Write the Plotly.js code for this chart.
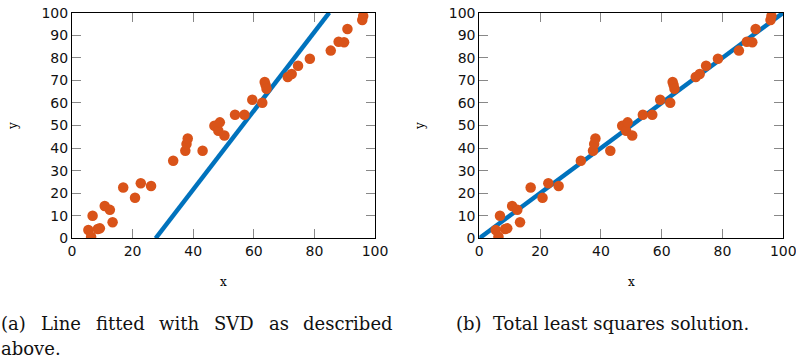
<!DOCTYPE html>
<html>
<head>
<meta charset="utf-8">
<script src="https://cdn.plot.ly/plotly-3.0.1.min.js"></script>
<style>html,body{margin:0;padding:0;background:#fff;}#chart{width:796px;height:359px;}</style>
</head>
<body>
<div id="chart"></div>
<script>
// Data points (same data in both panels)
const pointsX = [5.4, 6.3, 6.8, 8.5, 9.2, 10.8, 12.5, 13.4, 16.9, 20.8, 22.7, 26.1, 33.4, 37.4, 37.8, 38.2, 43.1, 47.0, 48.3, 48.8, 50.3, 53.8, 56.9, 59.5, 62.8, 63.6, 63.9, 64.2, 71.2, 72.5, 74.6, 78.5, 85.4, 88.0, 89.8, 90.9, 95.8, 96.1];
const pointsY = [3.7, 0.7, 10.0, 4.1, 4.4, 14.3, 12.6, 7.1, 22.5, 18.0, 24.4, 23.2, 34.4, 38.8, 41.8, 44.2, 38.8, 49.9, 47.7, 51.4, 45.6, 54.8, 54.8, 61.4, 60.1, 69.3, 68.0, 66.3, 71.5, 72.8, 76.5, 79.6, 83.2, 87.1, 86.9, 92.8, 96.8, 98.5];
// Fitted lines (endpoints of each fit)
const svdLineX = [27.6, 84.9];
const svdLineY = [0, 100];
const tlsLineX = [0, 100];
const tlsLineY = [0, 100];
const xTicks = [0, 20, 40, 60, 80, 100];
const yTicks = [0, 10, 20, 30, 40, 50, 60, 70, 80, 90, 100];
const captionA1 = ["(a)", "Line", "fitted", "with", "SVD", "as", "described"];
const captionA2 = "above.";
const captionB = "(b)&nbsp;&nbsp;Total least squares solution.";

const blue = "#0072BD", orange = "#D95319";
const lineStyle = {color: blue, width: 4.5};
const markerStyle = {color: orange, size: 10.5};

const traces = [
  {x: svdLineX, y: svdLineY, mode: "lines", line: lineStyle, xaxis: "x", yaxis: "y", hoverinfo: "skip"},
  {x: pointsX, y: pointsY, mode: "markers", marker: markerStyle, xaxis: "x", yaxis: "y"},
  {x: tlsLineX, y: tlsLineY, mode: "lines", line: lineStyle, xaxis: "x2", yaxis: "y2", hoverinfo: "skip"},
  {x: pointsX, y: pointsY, mode: "markers", marker: markerStyle, xaxis: "x2", yaxis: "y2"}
];

const tickFont = {family: "DejaVu Sans, sans-serif", size: 14, color: "#111"};
const serif = "DejaVu Serif, serif";
function xAx(domain, anchor) {
  return {domain: domain, anchor: anchor, range: [0, 100], tickvals: xTicks, ticktext: xTicks.map(String),
    ticks: "inside", ticklen: 9, tickcolor: "#888", tickwidth: 1, mirror: "ticks", showline: true,
    linecolor: "#000", linewidth: 1, showgrid: false, zeroline: false, tickfont: tickFont,
    ticklabeloverflow: "allow",
    title: {text: "x", font: {family: serif, size: 12, color: "#000"}, standoff: 19}};
}
function yAx(domain, anchor) {
  return {domain: domain, anchor: anchor, range: [0, 100], tickvals: yTicks, ticktext: yTicks.map(String),
    ticks: "inside", ticklen: 9, tickcolor: "#888", tickwidth: 1, mirror: "ticks", showline: true,
    linecolor: "#000", linewidth: 1, showgrid: false, zeroline: false, tickfont: tickFont,
    ticklabeloverflow: "allow",
    title: {text: "y", font: {family: serif, size: 12, color: "#000"}, standoff: 21}};
}
const yDom = [1 - 238.3 / 359, 1 - 12.7 / 359];
const capSize = 18;
const capFont = {family: serif, size: capSize, color: "#111"};
const annotations = [];
{
  // justify first line of caption (a) between left and right edges using measured word widths
  const ctx = document.createElement("canvas").getContext("2d");
  ctx.font = capSize + "px 'DejaVu Serif'";
  const widths = captionA1.map(w => ctx.measureText(w).width);
  const left = 0, right = 392;
  const gap = (right - left - widths.reduce((a, b) => a + b, 0)) / (captionA1.length - 1);
  let pos = left;
  captionA1.forEach((w, i) => {
    annotations.push({text: w, xref: "paper", yref: "paper", x: pos / 796, y: 1 - 312 / 359,
      xanchor: "left", yanchor: "top", showarrow: false, font: capFont, borderpad: 0});
    pos += widths[i] + gap;
  });
}
annotations.push({text: captionA2, xref: "paper", yref: "paper", x: 0, y: 1 - 337 / 359,
  xanchor: "left", yanchor: "top", showarrow: false, font: capFont, borderpad: 0});
annotations.push({text: captionB, xref: "paper", yref: "paper", x: 455 / 796, y: 1 - 312 / 359,
  xanchor: "left", yanchor: "top", showarrow: false, font: capFont, borderpad: 0});

const layout = {
  width: 796, height: 359, margin: {l: 0, r: 0, t: 0, b: 0},
  paper_bgcolor: "#fff", plot_bgcolor: "#fff", showlegend: false,
  xaxis: xAx([72 / 796, 375 / 796], "y"),
  yaxis: yAx(yDom, "x"),
  xaxis2: xAx([479.3 / 796, 783.3 / 796], "y2"),
  yaxis2: yAx(yDom, "x2"),
  annotations: annotations
};
Plotly.newPlot("chart", traces, layout, {staticPlot: true});
</script>
</body>
</html>
